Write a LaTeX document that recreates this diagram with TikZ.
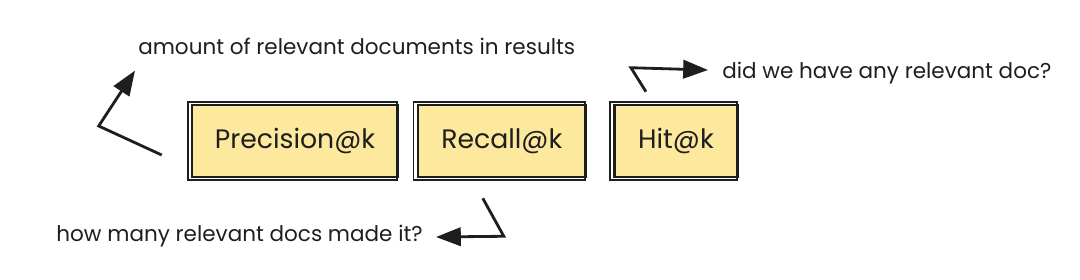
\documentclass[tikz,border=0pt]{standalone}
\usepackage{fontspec}
\setmainfont{Poppins}
\usetikzlibrary{arrows.meta, positioning, calc}
\definecolor{ink}{RGB}{30, 30, 30}
\definecolor{note}{RGB}{252, 233, 158}
\tikzset{
    metric/.style={
        rectangle, draw=ink, fill=note, text=ink,
        minimum height=1.8cm, inner sep=0pt,
        font=\fontsize{19}{22}\selectfont, line width=1.8pt
    },
    sketch/.style={draw=ink, line width=1.3pt},
    noteline/.style={-{Triangle[length=0.62cm, width=0.46cm]}, draw=ink, line width=2pt},
    anno/.style={font=\fontsize{15.3}{18}\selectfont, text=ink, inner sep=0pt}
}
\begin{document}
\begin{tikzpicture}[x=0.025cm, y=-0.025cm]
    \useasboundingbox (0,0) rectangle (1080,280);

    % Metric boxes
    \node[metric, minimum width=5.15cm] (prec) at (295,141) {Precision@k};
    \node[metric, minimum width=4.2cm, right=0.43cm of prec] (rec) {Recall@k};
    \node[metric, minimum width=3.08cm, right=0.65cm of rec] (hit) {Hit@k};

    % Second rough outline
    \foreach \b in {prec, rec, hit}
        \draw[sketch] ($(\b.north west)+(-3,-2)$) rectangle ($(\b.south east)+(-2,2)$);

    % Notes
    \node[anno, anchor=west] (amount) at (138,46) {amount of relevant documents in results};
    \node[anno, anchor=west] (did) at (722,73) {did we have any relevant doc?};
    \node[anno, anchor=east] (how) at (423,236) {how many relevant docs made it?};

    % Note arrows
    \draw[noteline] ($(prec.west)+(-29,14)$) -- ++(-63,-29) -- ($(amount.south west)+(-3,16)$);
    \draw[noteline] ($(hit.north)+(-30,-12)$) -- ++(-15,-24) -- ($(did.west)+(-14,-3)$);
    \draw[noteline] ($(rec.south)+(-19,20)$) -- ++(21,38) -- ($(how.east)+(13,1)$);

\end{tikzpicture}
\end{document}
